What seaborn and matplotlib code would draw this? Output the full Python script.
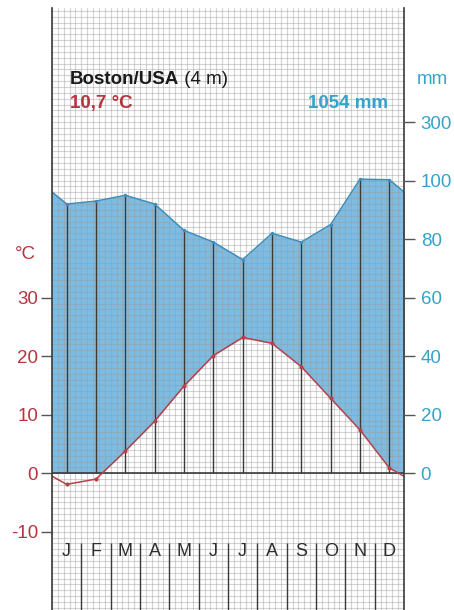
import numpy as np
import pandas as pd
import matplotlib
matplotlib.use("Agg")
import matplotlib.pyplot as plt
from matplotlib.patches import Rectangle
from matplotlib.ticker import MultipleLocator
import seaborn as sns

# data
months = ["J", "F", "M", "A", "M", "J", "J", "A", "S", "O", "N", "D"]
temp_c = [-1.9, -1.0, 3.8, 8.9, 14.9, 20.1, 23.2, 22.2, 18.2, 12.8, 7.4, 0.9]
precip_mm = [92, 93, 95, 92, 83, 79, 73, 82, 79, 85, 105, 103]
temp_ticks = [-10, 0, 10, 20, 30]
precip_ticks = [0, 20, 40, 60, 80, 100, 300]
station = "Boston/USA"
elevation = " (4 m)"
mean_temp = "10,7 °C"
total_precip = "1054 mm"

RED = "#b7343f"
TEAL = "#35a3c9"
FILL = "#7dbde4"
DARK = "#3a3a3a"


def mm_to_axis(p):
    # 20 mm = 10 °C up to 100 mm, then 200 mm = 10 °C
    p = np.asarray(p, dtype=float)
    return np.where(p <= 100, p / 2, 50 + (p - 100) / 20)


# month centres, plus Dec/Jan repeated at both ends so the curves run to the edges
x = np.arange(12) + 0.5
xw = np.concatenate([[-0.5], x, [12.5]])
tw = np.concatenate([[temp_c[-1]], temp_c, [temp_c[0]]])
pw = mm_to_axis(np.concatenate([[precip_mm[-1]], precip_mm, [precip_mm[0]]]))

df = pd.DataFrame({"x": xw, "temp": tw, "precip": pw})

sns.set_theme(style="white")
plt.rcParams["font.family"] = ["Liberation Sans", "DejaVu Sans"]

fig = plt.figure(figsize=(4.54, 6.10), dpi=100)
ax = fig.add_axes([52 / 454, 0, 352 / 454, 602 / 610])
ax.set_xlim(0, 12)
ax.set_ylim(-23.37, 79.5)

# humid area between the curves, only above 0
poly = ax.fill_between(df["x"], df["temp"], df["precip"], color=FILL, lw=0, zorder=1)
poly.set_clip_path(Rectangle((0, 0), 12, 200, transform=ax.transData))

# fine grid over everything
ax.xaxis.set_minor_locator(MultipleLocator(0.2))
ax.yaxis.set_minor_locator(MultipleLocator(1))
ax.set_xticks([])
ax.grid(which="minor", color="#9a9a9a", alpha=0.42, lw=0.8, zorder=2)
ax.grid(which="major", axis="y", color="#9a9a9a", alpha=0.42, lw=0.8, zorder=2)
ax.set_axisbelow(False)
ax.xaxis.set_tick_params(which="both", length=0)

# month centre lines and zero line
ax.vlines(x, 0, mm_to_axis(precip_mm), color=DARK, lw=1, zorder=3)
ax.axhline(0, color=DARK, lw=1.2, zorder=4)

sns.lineplot(data=df, x="x", y="precip", ax=ax, color="#3d8dbd", lw=1.1,
             marker="o", markersize=2.5, markeredgewidth=0, zorder=5)
sns.lineplot(data=df, x="x", y="temp", ax=ax, color="#b5404a", lw=1.1,
             marker="o", markersize=3, markeredgewidth=0, zorder=6)
ax.set_xlabel("")
ax.set_ylabel("")

# month labels with separators
for xi, m in zip(x, months):
    ax.text(xi, -13.3, m, ha="center", va="center", fontsize=13, color="#2e2e2e", zorder=7)
ax.vlines(np.arange(1, 12), -23.5, -12.0, color=DARK, lw=1, zorder=3)

# axes styling
for s in ("top", "bottom"):
    ax.spines[s].set_visible(False)
for s in ("left", "right"):
    ax.spines[s].set_color(DARK)
    ax.spines[s].set_linewidth(1.2)
    ax.spines[s].set_zorder(8)

ax.set_yticks(temp_ticks)
ax.set_yticklabels([str(t) for t in temp_ticks])
ax.tick_params(axis="y", which="major", length=8, width=1, color="#555555",
               labelcolor=RED, labelsize=13.5, pad=2, left=True)
ax.tick_params(axis="y", which="minor", length=0)

ax2 = ax.twinx()
ax2.set_ylim(ax.get_ylim())
ax2.set_yticks(mm_to_axis(precip_ticks))
ax2.set_yticklabels([str(p) for p in precip_ticks])
ax2.tick_params(axis="y", length=8, width=1, color="#555555", labelcolor=TEAL,
                labelsize=13.5, pad=4, right=True)
ax2.grid(False)
for s in ax2.spines.values():
    s.set_visible(False)

# header texts
t1 = ax.text(0.61, 67.2, station, fontsize=13.5, fontweight="bold", color="#1a1a1a",
             ha="left", va="center", zorder=9)
ax.annotate(elevation, xy=(1, 0.5), xycoords=t1, ha="left", va="center",
            fontsize=13.5, color="#1a1a1a", zorder=9)
ax.text(0.61, 63.1, mean_temp, fontsize=13.5, fontweight="bold", color=RED,
        ha="left", va="center", zorder=9)
ax.text(11.46, 63.1, total_precip, fontsize=13.5, fontweight="bold", color=TEAL,
        ha="right", va="center", zorder=9)
ax.text(12.44, 67.2, "mm", fontsize=13.5, color=TEAL, ha="left", va="center",
        clip_on=False)
ax.text(-0.9, 37.3, "°C", fontsize=13.5, color=RED, ha="center", va="center",
        clip_on=False)

fig.savefig("out.png", dpi=100)
